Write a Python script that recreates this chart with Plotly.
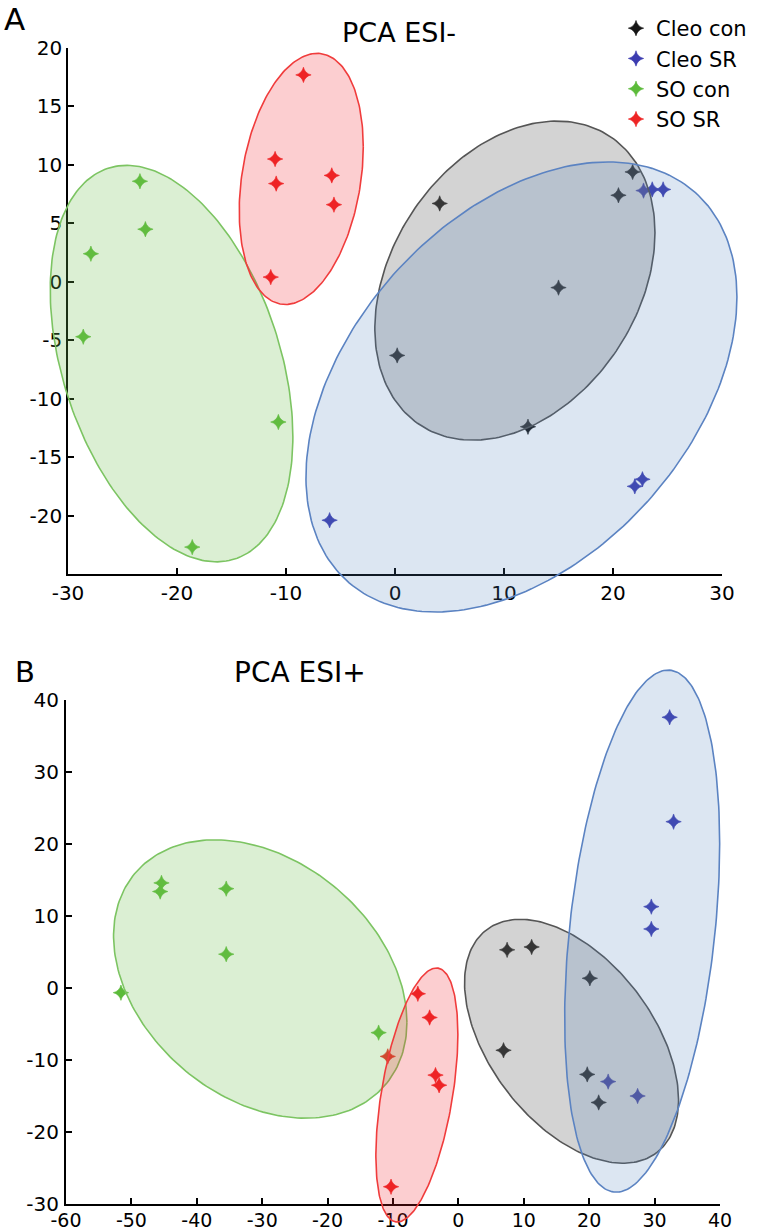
import numpy as np
import plotly.graph_objects as go

W, H = 760, 1232

groups = ["Cleo con", "Cleo SR", "SO con", "SO SR"]
marker_colors = ["#151515", "#3c3cb0", "#5cbb3a", "#ee2424"]
fill_colors = ["rgba(120,120,120,0.33)", "rgba(79,129,189,0.20)",
               "rgba(110,190,80,0.25)", "rgba(240,30,40,0.22)"]
line_colors = ["#555555", "#5b83c2", "#7cc462", "#f03c3c"]

# ---------------- Panel A : PCA ESI- ----------------
a_x = [
    [4.1, 0.2, 20.5, 21.8, 15.0, 12.2],        # Cleo con
    [22.8, 23.6, 24.6, 22.0, 22.7, -6.0],      # Cleo SR
    [-23.4, -22.9, -27.9, -28.6, -10.7, -18.6],  # SO con
    [-8.4, -11.0, -10.9, -5.8, -5.6, -11.4],   # SO SR
]
a_y = [
    [6.7, -6.3, 7.4, 9.4, -0.5, -12.4],
    [7.8, 7.9, 7.9, -17.5, -16.9, -20.4],
    [8.6, 4.5, 2.4, -4.7, -12.0, -22.7],
    [17.7, 10.5, 8.4, 9.1, 6.6, 0.4],
]
# ellipse: centre x, centre y, half-width, half-height, correlation
a_ell_cx = [11.0, 11.6, -20.5, -8.6]
a_ell_cy = [0.1, -9.0, -7.0, 8.8]
a_ell_sx = [12.85, 19.77, 11.13, 5.69]
a_ell_sy = [13.65, 19.25, 16.96, 10.74]
a_ell_rho = [0.30, 0.40, -0.37, 0.255]
a_xticks = [-30, -20, -10, 0, 10, 20, 30]
a_xticktext = ["-30", "-20", "-10", "0", "10", "20", "30"]
a_yticks = [-20, -15, -10, -5, 0, 5, 10, 15, 20]
a_yticktext = ["-20", "-15", "-10", "-5", "0", "5", "10", "15", "20"]
a_xrange = [-30, 30]
a_yrange = [-25, 20]

# ---------------- Panel B : PCA ESI+ ----------------
b_x = [
    [7.45, 11.2, 20.1, 6.9, 19.7, 21.45],
    [32.3, 32.9, 29.5, 29.5, 22.9, 27.4],
    [-45.4, -45.6, -35.5, -35.5, -51.6, -12.2],
    [-6.2, -4.4, -10.8, -3.5, -2.95, -10.3],
]
b_y = [
    [5.3, 5.7, 1.35, -8.65, -12.0, -15.9],
    [37.6, 23.1, 11.3, 8.2, -13.0, -15.0],
    [14.6, 13.4, 13.8, 4.7, -0.65, -6.2],
    [-0.8, -4.1, -9.5, -12.1, -13.5, -27.6],
]
b_ell_cx = [17.3, 28.1, -30.3, -6.35]
b_ell_cy = [-7.4, 7.9, 1.25, -14.86]
b_ell_sx = [16.36, 11.85, 22.43, 6.27]
b_ell_sy = [16.94, 36.25, 19.33, 17.64]
b_ell_rho = [-0.48, 0.335, -0.31, 0.477]
b_xticks = [-60, -50, -40, -30, -20, -10, 0, 10, 20, 30, 40]
b_xticktext = ["-60", "-50", "-40", "-30", "-20", "-10", "0", "10", "20", "30", "40"]
b_yticks = [-30, -20, -10, 0, 10, 20, 30, 40]
b_yticktext = ["-30", "-20", "-10", "0", "10", "20", "30", "40"]
b_xrange = [-60, 40]
b_yrange = [-30, 40]

FONT = "DejaVu Sans"

# pixel frames of the visible axes (left, right, top, bottom)
A_FRAME = (68, 722, 48, 574)
B_FRAME = (66, 720, 700, 1204)
# pixel frames of the (hidden) drawing areas
A_DRAW = (0, 760, 0, 640)
B_DRAW = (0, 760, 640, 1232)


def xdom(l, r):
    return [l / W, r / W]


def ydom(t, b):
    return [1 - b / H, 1 - t / H]


def ext_range(frame, draw, xr, yr):
    l, r, t, b = frame
    L, R, T, B = draw
    ux = (xr[1] - xr[0]) / (r - l)
    uy = (yr[1] - yr[0]) / (b - t)
    return ([xr[0] - (l - L) * ux, xr[1] + (R - r) * ux],
            [yr[0] - (B - b) * uy, yr[1] + (t - T) * uy])


def ellipse(cx, cy, sx, sy, rho, n=240):
    t = np.linspace(0, 2 * np.pi, n)
    ex = cx + sx * np.cos(t)
    ey = cy + sy * (rho * np.cos(t) + np.sqrt(1 - rho ** 2) * np.sin(t))
    return ex, ey


fig = go.Figure()

# dummy empty traces so the visible axis frames exist
fig.add_trace(go.Scatter(x=[], y=[], xaxis="x", yaxis="y", showlegend=False))
fig.add_trace(go.Scatter(x=[], y=[], xaxis="x2", yaxis="y2", showlegend=False))

marker_style = dict(symbol="star-diamond", size=11)

# markers (beneath the translucent ellipses)
for i, g in enumerate(groups):
    fig.add_trace(go.Scatter(
        x=a_x[i], y=a_y[i], mode="markers", name=g, xaxis="x3", yaxis="y3",
        marker=dict(color=marker_colors[i], line=dict(width=0.6, color=marker_colors[i]), **marker_style),
        legendgroup=g, showlegend=True))
for i, g in enumerate(groups):
    fig.add_trace(go.Scatter(
        x=b_x[i], y=b_y[i], mode="markers", name=g, xaxis="x4", yaxis="y4",
        marker=dict(color=marker_colors[i], line=dict(width=0.6, color=marker_colors[i]), **marker_style),
        legendgroup=g, showlegend=False))

# ellipses
for i, g in enumerate(groups):
    ex, ey = ellipse(a_ell_cx[i], a_ell_cy[i], a_ell_sx[i], a_ell_sy[i], a_ell_rho[i])
    fig.add_trace(go.Scatter(x=ex, y=ey, mode="lines", fill="toself",
                             fillcolor=fill_colors[i],
                             line=dict(color=line_colors[i], width=1.6),
                             xaxis="x3", yaxis="y3", showlegend=False, hoverinfo="skip"))
for i, g in enumerate(groups):
    ex, ey = ellipse(b_ell_cx[i], b_ell_cy[i], b_ell_sx[i], b_ell_sy[i], b_ell_rho[i])
    fig.add_trace(go.Scatter(x=ex, y=ey, mode="lines", fill="toself",
                             fillcolor=fill_colors[i],
                             line=dict(color=line_colors[i], width=1.6),
                             xaxis="x4", yaxis="y4", showlegend=False, hoverinfo="skip"))

axis_common = dict(showline=True, linecolor="black", ticks="inside", ticklen=6,
                   tickcolor="black", showgrid=False, zeroline=False, mirror=False,
                   fixedrange=True, automargin=False)
tick_font = dict(family=FONT, size=20, color="black")

a_xr3, a_yr3 = ext_range(A_FRAME, A_DRAW, a_xrange, a_yrange)
b_xr4, b_yr4 = ext_range(B_FRAME, B_DRAW, b_xrange, b_yrange)

hidden = dict(visible=False, showgrid=False, zeroline=False, fixedrange=True)

fig.update_layout(
    width=W, height=H,
    margin=dict(l=0, r=0, t=0, b=0, pad=0, autoexpand=False),
    paper_bgcolor="white", plot_bgcolor="rgba(0,0,0,0)",
    font=dict(family=FONT, color="black"),
    xaxis=dict(domain=xdom(A_FRAME[0], A_FRAME[1]), range=a_xrange, anchor="y",
               tickvals=a_xticks, ticktext=a_xticktext, linewidth=1.6, tickwidth=1.6,
               tickfont=tick_font, **axis_common),
    yaxis=dict(domain=ydom(A_FRAME[2], A_FRAME[3]), range=a_yrange, anchor="x",
               tickvals=a_yticks, ticktext=a_yticktext, linewidth=1.6, tickwidth=1.6,
               tickfont=tick_font, **axis_common),
    xaxis2=dict(domain=xdom(B_FRAME[0], B_FRAME[1]), range=b_xrange, anchor="y2",
                tickvals=b_xticks, ticktext=b_xticktext, linewidth=2.2, tickwidth=2.2,
                tickfont=dict(family=FONT, size=19, color="black"), ticklabelstandoff=-2,
                **axis_common),
    yaxis2=dict(domain=ydom(B_FRAME[2], B_FRAME[3]), range=b_yrange, anchor="x2",
                tickvals=b_yticks, ticktext=b_yticktext, linewidth=2.2, tickwidth=2.2,
                tickfont=tick_font, ticklabelstandoff=1, **axis_common),
    xaxis3=dict(domain=xdom(A_DRAW[0], A_DRAW[1]), range=a_xr3, anchor="y3", **hidden),
    yaxis3=dict(domain=ydom(A_DRAW[2], A_DRAW[3]), range=a_yr3, anchor="x3", **hidden),
    xaxis4=dict(domain=xdom(B_DRAW[0], B_DRAW[1]), range=b_xr4, anchor="y4", **hidden),
    yaxis4=dict(domain=ydom(B_DRAW[2], B_DRAW[3]), range=b_yr4, anchor="x4", **hidden),
    showlegend=True,
    legend=dict(x=616 / W, y=1 - 8 / H, xanchor="left", yanchor="top",
                bgcolor="rgba(0,0,0,0)", borderwidth=0, tracegroupgap=0,
                font=dict(family=FONT, size=21, color="black"), itemwidth=30),
    annotations=[
        dict(text="PCA ESI-", x=399 / W, y=1 - 32 / H, xref="paper", yref="paper",
             showarrow=False, xanchor="center", yanchor="middle",
             font=dict(family=FONT, size=27, color="black")),
        dict(text="PCA ESI+", x=300 / W, y=1 - 672 / H, xref="paper", yref="paper",
             showarrow=False, xanchor="center", yanchor="middle",
             font=dict(family=FONT, size=28, color="black")),
        dict(text="A", x=2 / W, y=1 - 19 / H, xref="paper", yref="paper",
             showarrow=False, xanchor="left", yanchor="middle",
             font=dict(family=FONT, size=31, color="black")),
        dict(text="B", x=13 / W, y=1 - 672 / H, xref="paper", yref="paper",
             showarrow=False, xanchor="left", yanchor="middle",
             font=dict(family=FONT, size=29, color="black")),
    ],
)

fig.write_html("out.html",
               config={"displayModeBar": False},
               post_script="document.body.style.margin='0px';"
                           "document.body.style.overflow='hidden';")
